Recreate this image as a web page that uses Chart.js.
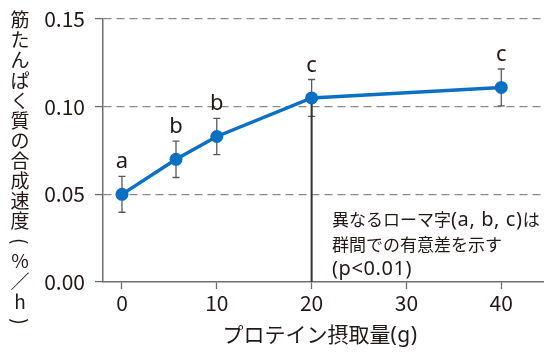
<!DOCTYPE html>
<html><head><meta charset="utf-8">
<script src="https://cdn.jsdelivr.net/npm/chart.js@4.4.1/dist/chart.umd.min.js"></script>
<style>html,body{margin:0;padding:0;background:#fff}</style>
</head><body>
<canvas id="c" width="550" height="357"></canvas>
<script>
// ---- data ----
const proteinIntake = [0, 5.7, 10, 20, 40];                // g
const synthesisRate = [0.050, 0.070, 0.083, 0.105, 0.111]; // %/h
const errorSD = [0.0102, 0.0104, 0.0103, 0.0105, 0.0105];
const groupLetters = ['a', 'b', 'b', 'c', 'c'];
const xTicks = [0, 10, 20, 30, 40];
const yTicks = [0, 0.05, 0.10, 0.15];
const yTitle = '筋たんぱく質の合成速度(%／h)';
const xTitle = 'プロテイン摂取量(g)';
const noteLines = ['異なるローマ字(a, b, c)は', '群間での有意差を示す', '(p<0.01)'];
const markedDose = 20;

const TXT = '#231815';
const AXIS = '#6f6f6f';
const BLUE = '#0b70c2';
const CJK = '"Noto Sans CJK JP"';
const LAT = '"Noto Sans", "Noto Sans CJK JP"';
Chart.defaults.font.family = CJK;
Chart.defaults.color = TXT;

const mainPoints = proteinIntake.map((x, i) => ({x, y: synthesisRate[i]}));
const markIdx = proteinIntake.indexOf(markedDose);
const refLine = [{x: markedDose, y: 0}, {x: markedDose, y: synthesisRate[markIdx]}];

// draw a string, CJK runs and Latin runs with different fonts
function mixedRuns(text) {
  const runs = [];
  for (const ch of text) {
    const cjk = /[\u3000-\u30ff\u4e00-\u9fff\uff00-\uffef]/.test(ch);
    if (runs.length && runs[runs.length - 1].cjk === cjk) runs[runs.length - 1].t += ch;
    else runs.push({cjk, t: ch});
  }
  return runs;
}
function drawMixed(ctx, text, x, y, cjkSize, latSize, latSpacing, align) {
  const runs = mixedRuns(text);
  const setF = r => {
    ctx.font = (r.cjk ? cjkSize + 'px ' + CJK : latSize + 'px ' + LAT);
    ctx.letterSpacing = r.cjk ? '0px' : latSpacing + 'px';
  };
  let total = 0;
  runs.forEach(r => { setF(r); r.w = ctx.measureText(r.t).width; total += r.w; });
  let cx = align === 'center' ? x - total / 2 : x;
  ctx.textAlign = 'left';
  ctx.textBaseline = 'alphabetic';
  runs.forEach(r => { setF(r); ctx.fillText(r.t, cx, y); cx += r.w; });
  ctx.letterSpacing = '0px';
}

const overlay = {
  id: 'overlay',
  beforeDatasetsDraw(chart) {
    const {ctx, scales: {x, y}} = chart;
    ctx.save();
    ctx.strokeStyle = '#5a5a5a';
    ctx.lineWidth = 1.3;
    proteinIntake.forEach((v, i) => {
      const px = x.getPixelForValue(v);
      const top = y.getPixelForValue(synthesisRate[i] + errorSD[i]);
      const bot = y.getPixelForValue(synthesisRate[i] - errorSD[i]);
      ctx.beginPath();
      ctx.moveTo(px, top); ctx.lineTo(px, bot);
      ctx.moveTo(px - 3.5, top); ctx.lineTo(px + 3.5, top);
      ctx.moveTo(px - 3.5, bot); ctx.lineTo(px + 3.5, bot);
      ctx.stroke();
    });
    ctx.restore();
  },
  afterDraw(chart) {
    const {ctx, scales: {x, y}, chartArea} = chart;
    ctx.save();
    ctx.fillStyle = TXT;
    // group letters
    ctx.font = '22px ' + LAT;
    ctx.textAlign = 'center';
    ctx.textBaseline = 'alphabetic';
    proteinIntake.forEach((v, i) => {
      const px = x.getPixelForValue(v);
      const top = y.getPixelForValue(synthesisRate[i] + errorSD[i]);
      ctx.fillText(groupLetters[i], px, top - 8);
    });
    // note
    noteLines.forEach((t, i) => drawMixed(ctx, t, chartArea.left + 229, chartArea.top + 207 + i * 24.5, 17, 20, 0.6, 'left'));
    // x title
    drawMixed(ctx, xTitle, (chartArea.left + chartArea.right) / 2 - 3, 342, 21, 21, 0.5, 'center');
    // vertical y title
    ctx.font = '19px ' + CJK;
    ctx.textAlign = 'center';
    ctx.textBaseline = 'middle';
    Array.from(yTitle).forEach((ch, i) => {
      const cy = 20 + i * 20.1;
      if (ch === '(' || ch === ')') {
        ctx.save();
        ctx.translate(20, cy);
        ctx.rotate(Math.PI / 2);
        ctx.fillText(ch, 0, 0);
        ctx.restore();
      } else {
        ctx.fillText(ch, 20, cy);
      }
    });
    ctx.restore();
  }
};

new Chart(document.getElementById('c'), {
  type: 'scatter',
  data: {
    datasets: [
      {
        data: mainPoints, showLine: true, borderColor: BLUE, borderWidth: 3.5,
        backgroundColor: BLUE, pointBackgroundColor: BLUE, pointBorderWidth: 0,
        pointRadius: 6.5, order: 1
      },
      {
        data: refLine, showLine: true, borderColor: '#333', borderWidth: 2,
        pointRadius: 0, order: 2
      }
    ]
  },
  options: {
    responsive: false,
    devicePixelRatio: 1,
    animation: false,
    events: [],
    layout: {padding: {left: 0, right: 7, top: 3, bottom: 0}},
    plugins: {legend: {display: false}, tooltip: {enabled: false}},
    scales: {
      x: {
        type: 'linear', min: -2, max: 44.4,
        afterBuildTicks: s => { s.ticks = xTicks.map(v => ({value: v})); },
        afterFit: s => { s.height = 75; },
        grid: {drawOnChartArea: false, tickLength: 7, tickColor: AXIS, tickWidth: 1.3},
        border: {color: AXIS, width: 1.5},
        ticks: {font: {size: 21}, color: TXT, padding: 1}
      },
      y: {
        min: 0, max: 0.15,
        afterBuildTicks: s => { s.ticks = yTicks.map(v => ({value: v})); },
        afterFit: s => { s.width = 103; },
        grid: {
          color: c => (c.tick && c.tick.value === 0) ? 'rgba(0,0,0,0)' : '#8a8a8a',
          lineWidth: 1.2, tickLength: 8, tickColor: AXIS, tickWidth: 1.3
        },
        border: {color: AXIS, width: 1.5, dash: [8, 5]},
        ticks: {font: {size: 21, lineHeight: 0.86}, color: TXT, padding: 10, callback: v => v.toFixed(2)}
      }
    }
  },
  plugins: [overlay]
});
</script>
</body></html>
